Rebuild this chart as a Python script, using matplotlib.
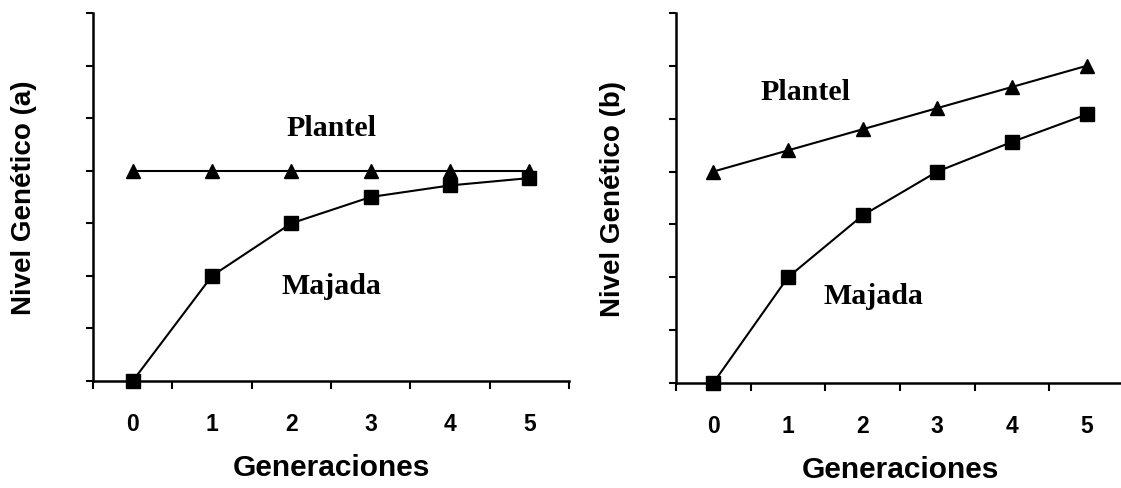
import matplotlib.pyplot as plt
from matplotlib.ticker import FixedLocator, NullFormatter

# Generations and genetic level per population
generaciones = [0, 1, 2, 3, 4, 5]
gen_labels = ['0', '1', '2', '3', '4', '5']

plantel_a = [4.0, 4.0, 4.0, 4.0, 4.0, 4.0]
majada_a = [0.0, 2.0, 3.0, 3.5, 3.72, 3.86]

plantel_b = [4.0, 4.4, 4.8, 5.2, 5.6, 6.0]
majada_b = [0.0, 2.0, 3.17, 4.0, 4.56, 5.08]

SANS = ['Liberation Sans', 'Arial', 'DejaVu Sans']
SERIF = ['Liberation Serif', 'Times New Roman', 'DejaVu Serif']

fig = plt.figure(figsize=(11.21, 4.89), dpi=100)
ax1 = fig.add_axes([0.083, 0.2188, 0.4246, 0.7526])
ax2 = fig.add_axes([0.603, 0.2147, 0.3996, 0.7567])


def style_panel(ax, plantel, majada, ylabel, plantel_xy, majada_xy):
    ax.plot(generaciones, plantel, color='black', lw=1.5, marker='^',
            ms=9.5, clip_on=False, zorder=3)
    ax.plot(generaciones, majada, color='black', lw=1.5, marker='s',
            ms=10.5, clip_on=False, zorder=3)

    ax.set_xlim(-0.5, 5.5)
    ax.set_ylim(0, 7)

    for side in ['top', 'right']:
        ax.spines[side].set_visible(False)
    for side in ['left', 'bottom']:
        ax.spines[side].set_linewidth(1.8)

    # category boundaries carry the tick marks, labels sit at the centres
    ax.xaxis.set_major_locator(FixedLocator([g - 0.5 for g in generaciones] + [5.5]))
    ax.xaxis.set_major_formatter(NullFormatter())
    ax.xaxis.set_minor_locator(FixedLocator(generaciones))
    ax.tick_params(axis='x', which='major', direction='out', length=6, width=1.5)
    ax.tick_params(axis='x', which='minor', length=0, pad=22,
                   labelsize=16.5, labelfontfamily=SANS[0])
    ax.set_xticklabels(gen_labels, minor=True, fontweight='bold')

    ax.set_yticks(range(8))
    ax.set_yticklabels([])
    ax.tick_params(axis='y', direction='out', length=5, width=1.5)

    ax.set_xlabel('Generaciones', fontsize=21.5, fontweight='bold', family=SANS)
    ax.xaxis.label.set_va('center')
    ax.xaxis.set_label_coords(0.5, -0.233)
    ax.set_ylabel(ylabel, fontsize=20, fontweight='bold', family=SANS)
    ax.yaxis.label.set_va('center')

    ax.text(*plantel_xy, 'Plantel', fontsize=21.5, fontweight='bold',
            family=SERIF, ha='center', va='center')
    ax.text(*majada_xy, 'Majada', fontsize=21.5, fontweight='bold',
            family=SERIF, ha='center', va='center')


style_panel(ax1, plantel_a, majada_a, 'Nivel Genético (a)', (2.51, 4.83), (2.5, 1.81))
ax1.yaxis.set_label_coords(-0.145, 0.5)

style_panel(ax2, plantel_b, majada_b, 'Nivel Genético (b)', (1.24, 5.52), (2.15, 1.65))
ax2.yaxis.set_label_coords(-0.141, 0.5)

fig.savefig('out.png', dpi=100)
